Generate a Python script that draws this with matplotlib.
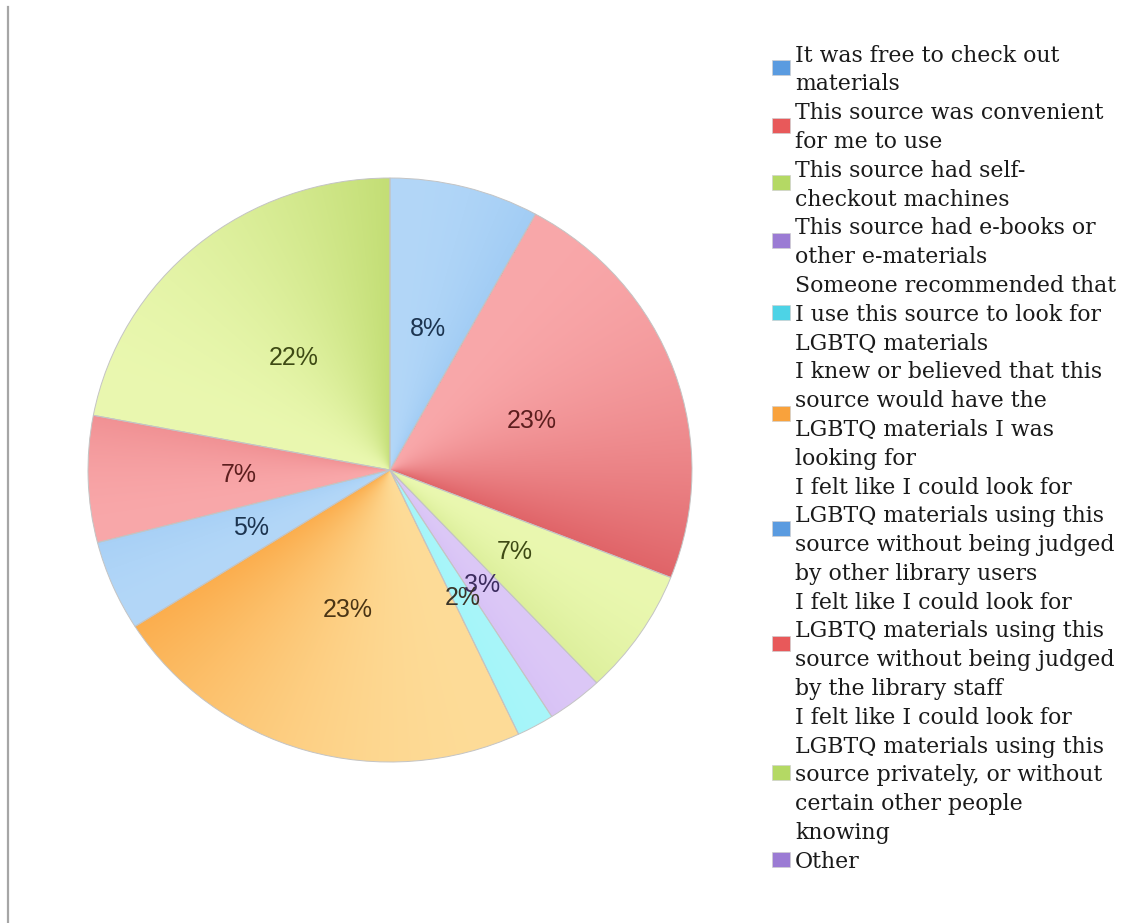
import numpy as np
import matplotlib
matplotlib.use('Agg')
import matplotlib.pyplot as plt
from matplotlib.lines import Line2D
from matplotlib.patches import Rectangle
from matplotlib.colors import to_rgb

# reasons for choosing the source (legend text wrapped as in the original)
labels = [
    "It was free to check out\nmaterials",
    "This source was convenient\nfor me to use",
    "This source had self-\ncheckout machines",
    "This source had e-books or\nother e-materials",
    "Someone recommended that\nI use this source to look for\nLGBTQ materials",
    "I knew or believed that this\nsource would have the\nLGBTQ materials I was\nlooking for",
    "I felt like I could look for\nLGBTQ materials using this\nsource without being judged\nby other library users",
    "I felt like I could look for\nLGBTQ materials using this\nsource without being judged\nby the library staff",
    "I felt like I could look for\nLGBTQ materials using this\nsource privately, or without\ncertain other people\nknowing",
    "Other",
]
shares = [8, 23, 7, 3, 2, 23, 5, 7, 22, 0]

# light / dark ends of each slice's shading, legend swatch, label colour
light = ['#B3D7F8', '#F9A8AA', '#EAF8B0', '#DCC8F7', '#A8F6FA', '#FEDC98',
         '#B3D7F8', '#F9A8AA', '#EAF8B0', '#DCC8F7']
dark = ['#86BCEF', '#E06468', '#C3DE75', '#C0A2EE', '#7EEAF2', '#FBAE4E',
        '#86BCEF', '#E06468', '#C3DE75', '#C0A2EE']
swatch = ['#5A9BE0', '#E8595A', '#B4D964', '#9B7BD4', '#4DD3E6', '#F9A23C',
          '#5A9BE0', '#E8595A', '#B4D964', '#9B7BD4']
txtcol = ['#1C3450', '#5C1E1E', '#3E4A14', '#3C2C5E', '#3A3428', '#4A3414',
          '#1C3450', '#5C1E1E', '#3E4A14', '#3C2C5E']

W, H = 1137, 923
fig = plt.figure(figsize=(W / 100, H / 100), dpi=100)

# pie area in pixels: x 88..692, y 178..762
ax = fig.add_axes([88 / W, 1 - 762 / H, 604 / W, 584 / H])
wedges, texts, autotexts = ax.pie(
    shares, colors=light, startangle=90, counterclock=False,
    autopct=lambda p: f'{p:.0f}%' if p > 0.5 else '', pctdistance=0.5,
    wedgeprops=dict(edgecolor='#C4C4C4', linewidth=0.7),
    textprops=dict(family='Liberation Sans', fontsize=18))

# angular shading inside each slice, weaker on the narrow ones
n = 500
xs = np.linspace(-1, 1, n)
X, Y = np.meshgrid(xs, xs)
ang = np.degrees(np.arctan2(Y, X)) % 360
for w, lc, dc in zip(wedges, light, dark):
    span = w.theta2 - w.theta1
    if span <= 0:
        continue
    amt = min(1.0, span / 75.0)
    f = amt * np.clip(((w.theta2 - ang) % 360) / span, 0, 1) ** 2
    img = np.array(to_rgb(lc)) * (1 - f[..., None]) + np.array(to_rgb(dc)) * f[..., None]
    im = ax.imshow(img, origin='lower', extent=(-1, 1, -1, 1), aspect='auto',
                   zorder=1, interpolation='bilinear')
    im.set_clip_path(w)
    w.set_facecolor('none')
    w.set_zorder(2)

for t, c in zip(autotexts, txtcol):
    t.set_color(c)
    t.set_zorder(4)

ax.set_aspect('auto')
ax.set_xlim(-1, 1)
ax.set_ylim(-1, 1)
ax.axis('off')

# legend drawn line by line
pitch = 28.8
y = 53.0
for lab, col in zip(labels, swatch):
    lines = lab.split('\n')
    yc = y + pitch * (len(lines) - 1) / 2
    fig.add_artist(Rectangle((772 / W, 1 - (yc + 7.5) / H), 18 / W, 15 / H,
                             transform=fig.transFigure, facecolor=col,
                             edgecolor='#D0D0D0', linewidth=0.5))
    for ln in lines:
        fig.text(795 / W, 1 - y / H, ln, family='DejaVu Serif', fontsize=15.8,
                 color='#1A1A1A', va='center_baseline', ha='left')
        y += pitch

# thin frame line at the left edge
fig.add_artist(Line2D([8 / W, 8 / W], [0, 1 - 7 / H], transform=fig.transFigure,
                      color='#A6A6A6', linewidth=1.6))

fig.savefig('out.png', dpi=100)
